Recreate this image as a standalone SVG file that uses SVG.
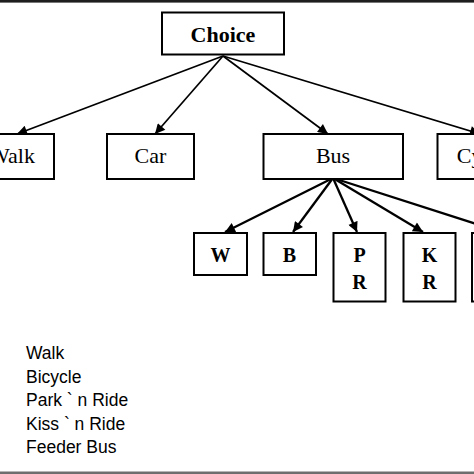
<svg xmlns="http://www.w3.org/2000/svg" width="474" height="474" viewBox="0 0 474 474">
<defs>
<marker id="ah" viewBox="0 0 10 10" refX="10" refY="5" markerWidth="11" markerHeight="10" markerUnits="userSpaceOnUse" orient="auto">
<path d="M0,0 L10,5 L0,10 z" fill="#000"/>
</marker>
</defs>
<style>
.box{fill:#fff;stroke:#000;stroke-width:2}
.ser{font-family:"Liberation Serif","Times New Roman",serif;font-size:22px;fill:#000;text-anchor:middle}
.b{font-weight:bold}
.sub{font-size:20px}
.edge{stroke:#000;stroke-width:1.7;fill:none;marker-end:url(#ah)}
.edge2{stroke:#000;stroke-width:2.3;fill:none;marker-end:url(#ah)}
.leg{font-family:"Liberation Sans",Arial,sans-serif;font-size:17.5px;fill:#000}
</style>
<rect x="0" y="0" width="474" height="474" fill="#fff"/>
<rect x="0" y="0" width="474" height="2.6" fill="#1e1e1e"/>
<rect x="0" y="471.5" width="474" height="2.5" fill="#6e6e6e"/>
<g id="connectors">
<line class="edge" x1="223" y1="56" x2="17" y2="134"/>
<line class="edge" x1="223" y1="56" x2="155" y2="134"/>
<line class="edge" x1="223" y1="56" x2="328" y2="134"/>
<line class="edge" x1="223" y1="56" x2="480" y2="134"/>
<line class="edge2" x1="333" y1="178" x2="225" y2="232"/>
<line class="edge2" x1="333" y1="178" x2="293" y2="232"/>
<line class="edge2" x1="333" y1="178" x2="357" y2="232"/>
<line class="edge2" x1="333" y1="178" x2="423" y2="232"/>
<line class="edge2" x1="333" y1="178" x2="501" y2="232"/>
</g>
<g id="choice">
<rect class="box" x="162" y="12.5" width="122" height="42"/>
<text class="ser b" x="223" y="41.5">Choice</text>
</g>
<g id="walk">
<rect class="box" x="-30" y="134" width="84" height="45"/>
<text class="ser" x="12" y="163">Walk</text>
</g>
<g id="car">
<rect class="box" x="107" y="134" width="87" height="45"/>
<text class="ser" x="150.5" y="163">Car</text>
</g>
<g id="bus">
<rect class="box" x="263.5" y="134" width="139.5" height="45"/>
<text class="ser" x="333" y="163">Bus</text>
</g>
<g id="cycle">
<rect class="box" x="437.5" y="134" width="90" height="45"/>
<text class="ser" x="482.5" y="163">Cycle</text>
</g>
<g id="w">
<rect class="box" x="194" y="233" width="53" height="42"/>
<text class="ser b sub" x="220.5" y="261.5">W</text>
</g>
<g id="b">
<rect class="box" x="263.5" y="233" width="52.5" height="42"/>
<text class="ser b sub" x="289.5" y="261.5">B</text>
</g>
<g id="pr">
<rect class="box" x="333.5" y="233" width="52" height="68.5"/>
<text class="ser b sub" x="359.5" y="261.5">P</text>
<text class="ser b sub" x="359.5" y="289">R</text>
</g>
<g id="kr">
<rect class="box" x="403.5" y="233" width="52" height="68.5"/>
<text class="ser b sub" x="429.5" y="261.5">K</text>
<text class="ser b sub" x="429.5" y="289">R</text>
</g>
<g id="fb">
<rect class="box" x="472" y="233" width="52" height="68.5"/>
</g>
<g id="legend">
<text class="leg" x="26" y="359">Walk</text>
<text class="leg" x="26" y="383">Bicycle</text>
<text class="leg" x="26" y="406">Park ` n Ride</text>
<text class="leg" x="26" y="429.5">Kiss ` n Ride</text>
<text class="leg" x="26" y="452.5">Feeder Bus</text>
</g>
</svg>
